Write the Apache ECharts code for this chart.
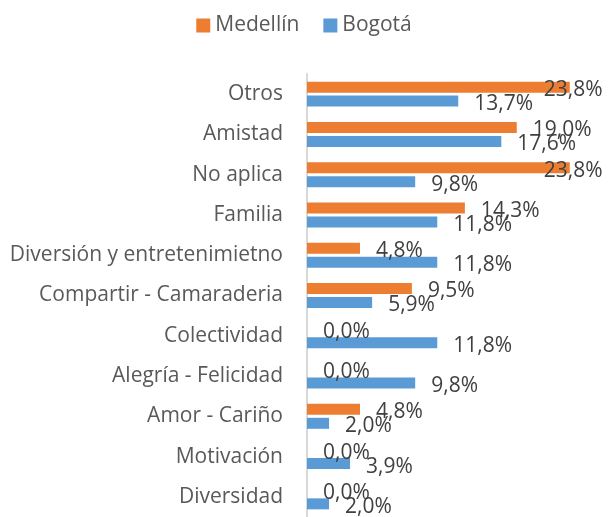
<!DOCTYPE html>
<html>
<head>
<meta charset="utf-8">
<script src="https://cdn.jsdelivr.net/npm/echarts@6/dist/echarts.min.js"></script>
<style>
  html, body { margin: 0; padding: 0; background: #fff; }
  #chart { width: 608px; height: 517px; }
</style>
</head>
<body>
<div id="chart"></div>
<script>
const categories = ['Otros', 'Amistad', 'No aplica', 'Familia', 'Diversión y entretenimietno',
  'Compartir - Camaraderia', 'Colectividad', 'Alegría - Felicidad', 'Amor - Cariño', 'Motivación', 'Diversidad']
const medellin = [23.8, 19.0, 23.8, 14.3, 4.8, 9.5, 0.0, 0.0, 4.8, 0.0, 0.0]
const bogota = [13.7, 17.6, 9.8, 11.8, 11.8, 5.9, 11.8, 9.8, 2.0, 3.9, 2.0]

const FONT = 'Open Sans'

// labels that would run off the right edge get pulled back onto the bar
const withLabels = arr => arr.map(v => v > 22
  ? { value: v, label: { distance: -26 } }
  : v)

const valueLabel = {
  show: true,
  position: 'right',
  distance: 16,
  offset: [0, 3],
  fontFamily: FONT,
  fontSize: 21,
  color: '#404040',
  formatter: p => p.value.toFixed(1).replace('.', ',') + '%'
}

const chart = echarts.init(document.getElementById('chart'))
chart.setOption({
  animation: false,
  color: ['#ED7D31', '#5B9BD5'],
  legend: {
    top: 10,
    left: 'center',
    itemWidth: 14,
    itemHeight: 14,
    itemGap: 24,
    icon: 'rect',
    textStyle: { fontFamily: FONT, fontSize: 21, color: '#595959' },
    data: ['Medellín', 'Bogotá']
  },
  grid: { left: 307, right: 25, top: 74, bottom: -3 },
  xAxis: {
    type: 'value',
    min: 0,
    max: 25,
    show: false
  },
  yAxis: {
    type: 'category',
    inverse: true,
    data: categories,
    axisLine: { show: true, lineStyle: { color: '#D9D9D9', width: 2 } },
    axisTick: { show: false },
    axisLabel: { fontFamily: FONT, fontSize: 21, color: '#595959', margin: 24, padding: [4, 0, 0, 0] }
  },
  series: [
    {
      name: 'Medellín',
      type: 'bar',
      barWidth: 11,
      barGap: '27%',
      data: withLabels(medellin),
      label: valueLabel
    },
    {
      name: 'Bogotá',
      type: 'bar',
      barWidth: 11,
      data: withLabels(bogota),
      label: valueLabel
    }
  ]
})
</script>
</body>
</html>
